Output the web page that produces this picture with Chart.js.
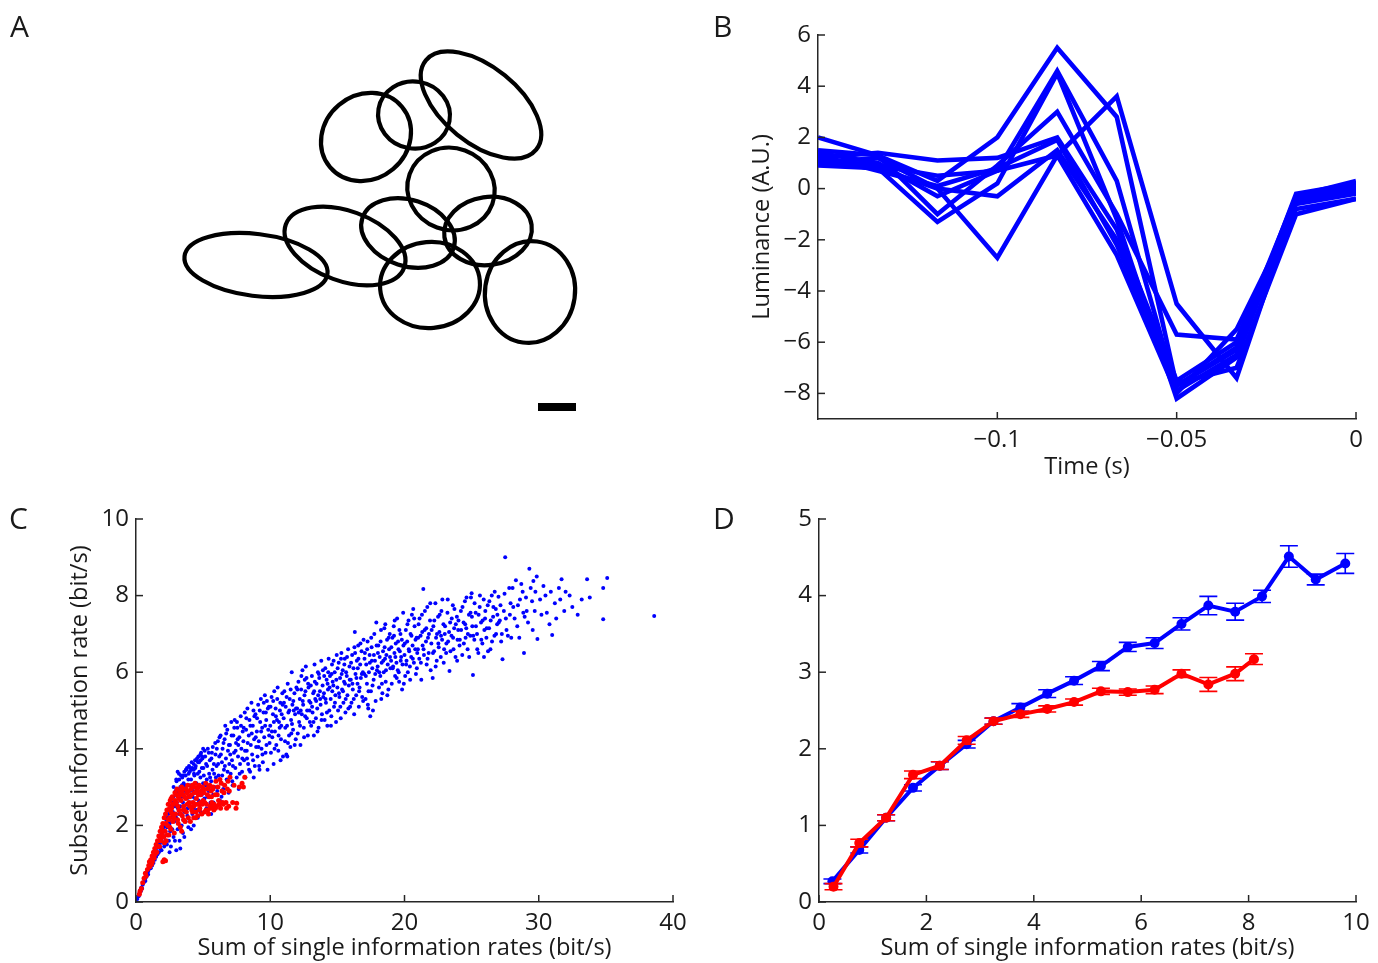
<!DOCTYPE html>
<html><head><meta charset="utf-8">
<script src="https://cdn.jsdelivr.net/npm/chart.js@4.4.1/dist/chart.umd.min.js"></script>
<style>
html,body{margin:0;padding:0;background:#fff;}
body{width:1378px;height:963px;position:relative;overflow:hidden;font-family:'Open Sans',sans-serif;}
.p{position:absolute;}
.lbl{position:absolute;font-family:'Open Sans',sans-serif;font-size:30px;line-height:30px;color:#1a1a1a;}
</style></head>
<body>
<div class="p" style="left:0;top:0"><canvas id="cA" width="700" height="490"></canvas></div>
<div class="p" style="left:700px;top:12px"><canvas id="cB" width="678" height="478"></canvas></div>
<div class="p" style="left:0;top:490px"><canvas id="cC" width="700" height="473"></canvas></div>
<div class="p" style="left:700px;top:490px"><canvas id="cD" width="678" height="473"></canvas></div>
<div class="lbl" style="left:10px;top:11px">A</div>
<div class="lbl" style="left:713px;top:11px">B</div>
<div class="lbl" style="left:9px;top:503px">C</div>
<div class="lbl" style="left:713px;top:503px">D</div>
<script>
// ---------- Panel A: receptive-field ellipses ----------
const rfX = [481, 414, 366, 451, 256, 345, 408, 488, 430, 530];
const rfY = [105, 115, 137, 189, 265, 246, 233, 231, 285, 292];
const rfA = [71, 36, 47, 44, 72, 63, 48, 44, 50, 45];
const rfB = [38, 33.5, 42, 41, 31, 35, 33, 34, 43, 51];
const rfAngle = [39, 10, -40, 20, 7, 20, 18, -8, -5, 8];
const scaleBarX = [538, 576];
const scaleBarY = 407;

// ---------- Panel B: luminance traces ----------
const timeS = [-0.15, -0.1333, -0.1167, -0.1, -0.0833, -0.0667, -0.05, -0.0333, -0.0167, 0];
const lum1 = [2.0, 1.3, 0.3, 2.0, 5.5, 2.8, -7.7, -6.2, -0.3, 0.1];
const lum2 = [1.1, 0.9, 0.5, 0.7, 1.3, 3.6, -4.5, -7.4, -0.5, -0.1];
const lum3 = [1.4, 1.0, -0.3, 0.7, 4.6, 0.3, -7.9, -6.5, -0.4, 0.0];
const lum4 = [1.0, 0.8, -1.3, 0.2, 4.5, -1.2, -8.2, -6.6, -0.5, -0.1];
const lum5 = [1.2, 1.4, 1.1, 1.2, 2.0, -1.6, -7.5, -6.0, -0.3, 0.3];
const lum6 = [0.9, 0.8, 0.0, -2.7, 1.3, -2.6, -8.0, -5.5, -0.8, -0.4];
const lum7 = [1.5, 1.3, -1.0, 0.9, 3.0, -1.0, -5.7, -5.9, -0.6, -0.2];
const lum8 = [1.0, 1.2, 0.0, -0.3, 1.5, -2.0, -7.6, -7.0, -1.0, -0.4];
const lum9 = [1.3, 0.7, 0.1, 0.8, 1.9, -2.2, -7.7, -6.3, -0.2, 0.2];
const bTicksX = [-0.1, -0.05, 0];
const bTicksY = [-8, -6, -4, -2, 0, 2, 4, 6];

// ---------- Panel C: scatter ----------
const bluePts = [
[0.1,0.08],[0.2,0.15],[0.25,0.22],[0.3,0.3],[0.35,0.28],[0.4,0.38],[0.45,0.35],[0.5,0.45],[0.55,0.5],[0.6,0.52],[0.65,0.6],[0.7,0.62],[0.75,0.7],[0.8,0.68],[0.85,0.78],[0.9,0.8],[0.95,0.85],[1.0,0.9],[0.7,0.55],[0.9,0.72],
[1.05,0.95],[1.1,1.0],[1.1,0.88],[1.15,1.05],[1.2,1.1],[1.2,0.95],[1.25,1.15],[1.3,1.2],[1.3,1.02],[1.35,1.25],[1.4,1.3],[1.4,1.1],[1.45,1.35],[1.5,1.4],[1.5,1.18],[1.55,1.45],[1.6,1.5],[1.6,1.25],[1.65,1.55],[1.7,1.6],[1.7,1.3],[1.75,1.5],[1.8,1.7],[1.8,1.4],[1.85,1.75],[1.9,1.62],[1.9,1.35],[1.95,1.85],[2.0,1.55],[2.0,1.75],
[2.05,1.95],[2.1,1.45],[2.1,1.7],[2.15,2.0],[2.2,1.6],[2.2,1.85],[2.25,2.15],[2.3,1.5],[2.3,1.95],[2.35,2.2],[2.4,1.75],[2.4,2.3],[2.45,1.6],[2.5,2.05],[2.5,2.4],[2.55,1.85],[2.6,2.5],[2.6,1.45],[2.65,2.2],[2.7,2.6],[2.7,1.9],[2.75,2.35],[2.8,1.7],[2.8,2.75],[2.85,2.1],[2.9,2.5],[2.9,1.6],[2.95,2.9],[3.0,2.2],[3.0,3.2],[2.6,2.1],[2.4,2.0],[2.2,2.3],[2.8,3.0],[2.5,1.3],
[3.05,2.6],[3.1,3.4],[3.1,1.9],[3.15,2.85],[3.2,2.3],[3.2,3.35],[3.25,1.6],[3.3,3.0],[3.3,2.5],[3.35,3.3],[3.4,2.0],[3.4,2.8],[3.45,3.25],[3.5,2.6],[3.5,1.8],[3.55,3.1],[3.6,2.35],[3.6,3.4],[3.65,2.9],[3.7,3.3],[3.7,2.1],[3.75,3.45],[3.8,2.7],[3.8,3.5],[3.85,2.45],[3.9,3.2],[3.9,1.95],[3.95,3.55],[4.0,2.9],[4.0,3.4],[3.3,1.4],[3.6,1.7],[3.0,1.35],[3.5,3.3],[3.2,2.7],
[4.05,3.5],[4.1,2.6],[4.1,3.2],[4.15,3.65],[4.2,2.3],[4.2,3.5],[4.25,2.9],[4.3,3.6],[4.3,2.0],[4.35,3.3],[4.4,3.7],[4.4,2.7],[4.45,3.55],[4.5,3.1],[4.5,2.4],[4.55,3.75],[4.6,3.35],[4.6,2.85],[4.65,3.8],[4.7,3.0],[4.7,3.65],[4.75,2.55],[4.8,3.85],[4.8,3.25],[4.85,3.9],[4.9,2.8],[4.9,3.5],[4.95,3.75],[5.0,3.1],[5.0,4.0],[4.6,2.2],[4.3,3.45],[4.8,2.35],[4.1,1.9],[4.5,3.7],
[5.05,3.3],[5.1,2.7],[5.15,3.8],[5.2,3.05],[5.25,2.45],[5.3,3.55],[5.35,4.0],[5.4,2.9],[5.45,3.35],[5.5,3.7],[5.55,2.6],[5.6,3.15],[5.65,3.9],[5.7,3.45],[5.75,2.8],[5.8,3.6],[5.9,4.15],[5.95,3.25],[5.6,2.3],[5.85,3.0],
[6.0,3.55],[6.05,2.9],[6.1,4.2],[6.15,3.3],[6.2,3.8],[6.25,2.65],[6.3,4.35],[6.35,3.1],[6.4,3.65],[6.45,4.0],[6.5,2.95],[6.55,3.45],[6.6,4.25],[6.7,3.75],[6.75,3.2],[6.8,4.5],[6.85,3.95],[6.9,2.85],[6.95,3.6],[6.65,4.6],
[7.0,4.1],[7.05,3.35],[7.1,4.7],[7.15,3.7],[7.2,3.05],[7.25,4.35],[7.3,3.9],[7.35,4.75],[7.4,3.5],[7.45,4.15],[7.5,3.25],[7.55,4.55],[7.6,3.8],[7.7,4.3],[7.75,3.6],[7.8,4.85],[7.85,4.0],[7.9,3.4],[7.95,4.45],[7.65,2.95],
[8.0,4.2],[8.05,3.7],[8.1,4.95],[8.15,3.25],[8.2,4.5],[8.25,3.95],[8.3,5.05],[8.35,3.6],[8.4,4.35],[8.45,4.75],[8.5,3.4],[8.55,4.1],[8.6,5.2],[8.65,3.85],[8.7,4.6],[8.8,4.25],[8.85,3.55],[8.9,4.9],[8.95,4.05],[8.75,5.0],
[9.0,4.45],[9.05,3.8],[9.1,5.15],[9.15,4.2],[9.2,3.45],[9.25,4.7],[9.3,5.3],[9.35,4.0],[9.4,4.55],[9.45,3.65],[9.5,4.95],[9.55,4.3],[9.6,5.4],[9.65,3.9],[9.7,4.75],[9.8,3.45],[9.85,4.5],[9.9,5.1],[9.95,4.15],[9.75,5.25],
[10.0,4.6],[10.05,3.9],[10.1,5.35],[10.15,4.3],[10.2,4.9],[10.25,3.6],[10.3,5.5],[10.35,4.45],[10.4,5.05],[10.45,4.1],[10.5,4.75],[10.55,5.6],[10.6,3.95],[10.7,4.55],[10.75,5.2],[10.8,4.25],[10.85,4.9],[10.9,5.45],[10.95,3.8],[10.65,4.7],
[11.0,4.8],[11.05,5.5],[11.1,4.2],[11.15,5.1],[11.2,3.85],[11.25,4.6],[11.3,5.7],[11.35,4.95],[11.4,4.35],[11.45,5.3],[11.5,4.05],[11.55,4.75],[11.6,6.0],[11.65,5.15],[11.7,4.5],[11.8,5.45],[11.85,4.9],[11.9,4.25],[11.95,5.6],[11.75,5.0],
[12.0,5.05],[12.05,4.4],[12.1,5.75],[12.15,4.7],[12.2,5.3],[12.25,4.1],[12.3,5.55],[12.35,4.9],[12.4,6.05],[12.45,5.15],[12.5,4.55],[12.55,5.4],[12.6,4.85],[12.7,5.85],[12.75,5.0],[12.8,4.35],[12.85,5.6],[12.9,5.25],[12.95,4.7],[12.65,6.15],
[13.0,5.2],[13.05,4.6],[13.1,5.9],[13.15,4.95],[13.2,5.45],[13.25,4.35],[13.3,6.2],[13.35,5.3],[13.4,4.8],[13.45,5.7],[13.5,5.05],[13.55,6.0],[13.6,4.55],[13.7,5.5],[13.75,5.15],[13.8,6.3],[13.85,4.9],[13.9,5.65],[13.95,5.35],[13.65,5.85],
[14.0,5.45],[14.05,4.75],[14.1,6.1],[14.15,5.2],[14.2,5.8],[14.25,4.6],[14.3,5.55],[14.35,6.35],[14.4,5.0],[14.45,5.9],[14.5,5.3],[14.55,4.85],[14.6,6.2],[14.7,5.65],[14.75,5.1],[14.8,6.0],[14.85,5.4],[14.9,4.7],[14.95,6.45],[14.65,5.75],
[15.0,5.6],[15.05,5.0],[15.1,6.25],[15.15,5.35],[15.2,5.85],[15.25,4.8],[15.3,6.5],[15.35,5.55],[15.4,6.05],[15.45,5.2],[15.5,5.75],[15.55,6.35],[15.6,4.95],[15.7,5.9],[15.75,5.4],[15.8,6.6],[15.85,5.65],[15.9,6.15],[15.95,5.1],[15.65,6.0],
[16.0,5.8],[16.05,5.2],[16.1,6.45],[16.15,5.55],[16.2,6.1],[16.25,4.9],[16.3,7.05],[16.35,5.95],[16.4,5.4],[16.45,6.3],[16.5,5.7],[16.55,6.7],[16.6,5.1],[16.7,6.2],[16.75,5.85],[16.8,6.55],[16.85,5.35],[16.9,6.0],[16.95,6.85],[16.65,5.6],
[17.0,5.95],[17.05,6.5],[17.1,5.3],[17.15,6.2],[17.2,5.7],[17.25,6.8],[17.3,5.05],[17.35,6.0],[17.4,6.45],[17.45,4.85],[17.5,5.5],[17.55,6.65],[17.6,6.1],[17.7,5.8],[17.75,7.0],[17.8,6.3],[17.85,5.25],[17.9,7.3],[17.95,6.05],[17.65,5.0],
[18.0,6.15],[18.05,6.7],[18.1,5.6],[18.15,6.4],[18.2,5.9],[18.25,7.1],[18.3,6.25],[18.35,5.45],[18.4,6.55],[18.45,6.0],[18.5,7.15],[18.55,6.35],[18.6,5.75],[18.7,6.85],[18.75,6.2],[18.8,5.55],[18.85,6.6],[18.9,7.0],[18.95,6.1],[18.65,6.45],
[19.0,6.3],[19.05,5.7],[19.1,6.9],[19.15,6.15],[19.2,7.2],[19.25,6.5],[19.3,5.9],[19.35,6.75],[19.4,6.25],[19.45,7.4],[19.5,6.05],[19.55,6.6],[19.6,5.75],[19.7,7.0],[19.75,6.4],[19.8,6.85],[19.85,6.2],[19.9,7.55],[19.95,5.7],[19.65,6.55],
[20.0,6.45],[20.05,5.9],[20.1,7.1],[20.15,6.3],[20.2,6.8],[20.25,6.0],[20.3,7.35],[20.35,6.55],[20.4,6.15],[20.45,7.0],[20.5,6.4],[20.55,7.5],[20.6,6.7],[20.7,6.25],[20.75,7.2],[20.8,6.6],[20.85,5.95],[20.9,6.9],[20.95,6.5],[20.65,7.65],
[21.0,6.6],[21.05,7.25],[21.1,6.35],[21.2,6.95],[21.25,5.8],[21.3,7.5],[21.35,6.7],[21.4,8.17],[21.45,6.45],[21.5,7.1],[21.6,6.8],[21.65,6.2],[21.7,7.7],[21.75,6.9],[21.8,6.5],[21.9,7.35],[21.95,6.05],
[22.0,6.75],[22.1,5.85],[22.15,7.2],[22.2,6.55],[22.3,7.8],[22.35,6.9],[22.4,6.3],[22.5,7.45],[22.55,6.65],[22.6,7.05],[22.7,6.4],[22.75,7.6],[22.8,6.85],[22.9,7.25],[22.95,6.6],
[23.0,7.0],[23.1,6.5],[23.2,7.55],[23.25,6.8],[23.35,6.03],[23.4,7.3],[23.5,6.95],[23.6,7.75],[23.65,6.6],[23.7,7.15],[23.8,6.4],[23.9,7.45],[23.95,6.85],
[24.0,7.1],[24.1,6.7],[24.2,7.6],[24.3,6.45],[24.4,7.3],[24.5,7.85],[24.55,6.9],[24.6,7.15],[24.7,6.6],[24.8,7.5],[24.9,6.95],[24.95,7.95],
[25.0,8.06],[25.05,7.2],[25.1,5.93],[25.2,6.85],[25.3,7.55],[25.4,7.0],[25.5,6.5],[25.6,7.7],[25.7,7.3],[25.8,6.75],[25.9,7.9],[25.95,7.1],
[26.0,7.4],[26.1,6.9],[26.2,7.75],[26.3,7.15],[26.4,6.6],[26.5,8.0],[26.6,7.45],[26.7,6.95],[26.8,7.65],[26.9,7.25],
[27.0,7.97],[27.1,7.35],[27.2,6.8],[27.3,6.34],[27.4,7.6],[27.5,9.0],[27.6,7.1],[27.8,8.2],[27.85,7.5],[27.95,6.9],
[28.1,7.7],[28.3,8.4],[28.4,7.2],[28.6,7.9],[28.9,6.5],[28.8,8.1],[28.95,7.45],
[29.1,7.6],[29.3,8.7],[29.6,8.38],[29.9,6.87],[29.5,7.85],[29.75,8.1],
[30.2,7.5],[30.5,8.0],[30.8,7.25],[31.0,6.97],[31.2,7.8],[31.5,8.2],[31.7,8.43],[31.9,7.6],
[32.3,8.0],[32.9,7.5],[33.2,7.9],[33.6,8.43],[33.8,7.95],[34.8,8.2],[35.1,8.46],[34.8,7.38],
[38.6,7.47],
[3.02,3.15],[3.12,2.45],[3.22,3.2],[3.42,3.05],[3.52,2.15],[3.62,3.05],[3.72,3.45],[3.82,2.25],[3.92,3.35],[3.47,2.75],
[4.02,3.05],[4.12,3.45],[4.22,2.75],[4.32,3.35],[4.42,3.5],[4.52,2.95],[4.62,3.65],[4.72,3.4],[4.82,3.7],[4.92,3.8],[4.27,2.45],[4.67,2.65],
[5.02,3.5],[5.12,3.95],[5.22,3.6],[5.32,2.75],[5.42,3.9],[5.52,3.25],[5.62,3.75],[5.72,4.05],[5.82,3.35],[5.92,3.85],[5.27,3.2],[5.77,2.6],
[6.02,4.0],[6.12,3.6],[6.22,4.3],[6.32,3.85],[6.42,3.3],[6.52,4.15],[6.62,3.55],[6.72,4.4],[6.82,3.4],[6.92,4.1],[6.37,2.75],[6.87,3.15],
[7.02,3.85],[7.12,4.35],[7.22,3.55],[7.32,4.55],[7.42,3.95],[7.52,4.7],[7.62,4.1],[7.72,3.35],[7.82,4.6],[7.92,3.75],[7.17,3.15],[7.57,4.25],
[8.02,4.55],[8.12,3.95],[8.22,4.8],[8.32,4.15],[8.42,3.45],[8.52,4.6],[8.62,4.4],[8.72,3.7],[8.82,4.85],[8.92,4.3],[8.27,3.75],[8.77,3.25],
[9.02,4.8],[9.12,4.05],[9.22,5.0],[9.32,4.45],[9.42,3.85],[9.52,5.2],[9.62,4.6],[9.72,4.1],[9.82,5.05],[9.92,4.35],[9.17,3.55],[9.67,4.95],
[10.02,5.1],[10.12,4.45],[10.22,5.25],[10.32,4.0],[10.42,4.85],[10.52,5.3],[10.62,4.35],[10.72,5.0],[10.82,4.6],[10.92,5.15],[10.27,4.7],[10.77,3.7],
[11.02,5.2],[11.12,4.55],[11.22,5.35],[11.32,4.15],[11.42,5.0],[11.52,5.55],[11.62,4.65],[11.72,5.25],[11.82,4.1],[11.92,5.05],[11.27,3.8],[11.57,4.4],
[12.02,5.55],[12.12,4.95],[12.22,4.6],[12.32,5.9],[12.42,5.25],[12.52,4.3],[12.62,5.5],[12.72,4.8],[12.82,5.7],[12.92,5.0],[12.27,5.0],[12.57,5.8],
[13.02,5.65],[13.12,5.1],[13.22,4.7],[13.32,5.75],[13.42,5.25],[13.52,4.45],[13.62,5.95],[13.72,5.3],[13.82,4.75],[13.92,6.05],[13.27,5.5],[13.57,5.4],
[14.02,5.9],[14.12,5.3],[14.22,4.95],[14.32,6.0],[14.42,5.6],[14.52,4.6],[14.62,5.5],[14.72,6.3],[14.82,5.2],[14.92,5.8],[14.27,5.7],[14.57,5.95],
[15.02,6.1],[15.12,5.45],[15.22,5.1],[15.32,5.95],[15.42,5.5],[15.52,6.2],[15.62,5.3],[15.72,6.4],[15.82,5.05],[15.92,5.8],[15.27,6.35],[15.57,5.7],
[16.02,6.25],[16.12,5.7],[16.22,5.3],[16.32,6.5],[16.42,5.85],[16.52,6.1],[16.62,5.5],[16.72,6.75],[16.82,5.95],[16.92,5.25],[16.27,6.65],[16.57,6.35],
[17.02,6.35],[17.12,5.9],[17.22,6.6],[17.32,5.5],[17.42,6.25],[17.52,6.9],[17.62,5.65],[17.72,6.45],[17.82,5.95],[17.92,6.7],[17.27,5.15],[17.57,6.3],
[18.02,6.5],[18.12,6.0],[18.22,6.8],[18.32,5.7],[18.42,6.3],[18.52,6.65],[18.62,6.05],[18.72,5.4],[18.82,6.9],[18.92,6.4],[18.27,5.3],[18.57,7.25],
[19.02,6.65],[19.12,6.1],[19.22,6.95],[19.32,6.4],[19.42,5.85],[19.52,6.8],[19.62,7.1],[19.72,6.3],[19.82,5.55],[19.92,6.7],[19.27,7.35],[19.57,6.0],
[20.02,6.75],[20.12,6.2],[20.22,7.25],[20.32,6.6],[20.42,5.8],[20.52,6.95],[20.62,6.35],[20.72,7.4],[20.82,6.85],[20.92,6.1],
[21.02,6.9],[21.12,7.4],[21.22,6.25],[21.32,7.05],[21.42,6.6],[21.52,7.6],[21.62,7.15],[21.72,6.35],[21.82,7.0],[21.92,7.8],
[22.02,7.1],[22.12,6.5],[22.22,7.35],[22.32,6.15],[22.42,7.0],[22.52,6.75],[22.62,7.5],[22.72,6.95],[22.82,7.9],[22.92,6.25],
[23.02,7.2],[23.12,6.75],[23.22,7.9],[23.32,7.05],[23.42,6.55],[23.52,7.4],[23.62,6.9],[23.72,7.65],[23.82,7.25],[23.92,6.3],
[24.02,7.35],[24.12,6.85],[24.22,7.1],[24.32,7.7],[24.42,6.75],[24.52,7.25],[24.62,7.95],[24.72,7.0],[24.82,6.4],[24.92,7.55],
[25.02,7.45],[25.12,6.95],[25.22,7.8],[25.32,7.2],[25.42,6.6],[25.52,7.5],[25.62,8.0],[25.72,6.85],[25.82,7.35],[25.92,6.4],
[26.02,7.6],[26.12,7.15],[26.22,6.55],[26.32,7.85],[26.42,7.35],[26.52,6.8],[26.62,7.7],[26.72,8.1],[26.82,7.0],[26.92,7.5],
[27.02,7.3],[27.15,7.75],[27.25,7.0],[27.45,8.05],[27.55,7.4],[27.7,6.95],[27.9,7.8],
[28.05,8.2],[28.2,7.4],[28.45,7.75],[28.55,6.9],[28.7,8.3],[28.85,7.55],
[29.05,7.95],[29.2,7.3],[29.4,8.2],[29.55,7.1],[29.7,7.6],[29.85,8.5],
[30.1,7.9],[30.35,8.25],[30.6,7.55],[30.9,8.1],[31.3,7.4],[31.6,7.9],[32.0,8.1],[32.5,7.7]
];
const redPts = [
[0.25,0.2],[0.3,0.28],[0.4,0.35],[0.5,0.5],[0.6,0.62],[0.7,0.75],[0.75,0.68],[0.85,0.85],[0.95,0.95],[1.0,1.05],[1.1,1.1],[1.15,0.98],[1.2,1.2],[1.3,1.3],[1.35,1.15],[1.4,1.4],[1.5,1.5],[1.55,1.3],[1.6,1.6],[1.7,1.72],[1.75,1.45],[1.8,1.85],[1.85,1.6],[1.9,1.95],[1.95,1.75],[2.0,1.05],[2.1,1.1],[2.2,1.08],
[2.0,2.05],[2.05,1.7],[2.1,2.2],[2.15,1.85],[2.2,2.3],[2.25,1.6],[2.3,2.4],[2.35,2.0],[2.4,2.55],[2.45,1.75],[2.5,2.2],[2.55,2.65],[2.6,1.9],[2.65,2.45],[2.7,2.75],[2.75,2.1],[2.8,2.55],[2.85,1.8],[2.9,2.85],[2.95,2.3],[2.5,2.45],[2.7,2.3],
[3.0,2.6],[3.05,2.95],[3.1,2.15],[3.15,2.75],[3.2,2.4],[3.25,2.9],[3.3,1.95],[3.35,2.65],[3.4,3.0],[3.45,2.25],[3.5,2.8],[3.55,2.5],[3.6,2.95],[3.65,2.1],[3.7,2.7],[3.75,2.35],[3.8,2.85],[3.85,3.05],[3.9,2.2],[3.95,2.6],[3.3,2.8],[3.6,2.4],[3.9,2.9],[3.4,1.85],
[4.0,2.75],[4.05,2.1],[4.1,2.95],[4.15,2.4],[4.2,3.05],[4.25,2.6],[4.3,2.2],[4.35,2.85],[4.4,3.1],[4.45,2.35],[4.5,2.7],[4.55,2.95],[4.6,2.25],[4.65,2.8],[4.7,3.05],[4.75,2.45],[4.8,2.6],[4.85,2.9],[4.9,2.3],[4.95,3.0],[4.3,2.5],[4.6,2.55],
[5.0,2.65],[5.05,2.85],[5.1,2.35],[5.2,3.1],[5.25,2.55],[5.3,2.95],[5.35,2.4],[5.45,2.75],[5.5,3.05],[5.55,2.45],[5.6,2.9],[5.7,2.5],[5.75,3.0],[5.8,2.4],[5.9,2.8],[5.95,3.15],[5.4,2.3],[5.65,2.6],
[6.0,2.5],[6.1,3.0],[6.15,2.65],[6.25,3.2],[6.3,2.45],[6.4,2.9],[6.5,2.55],[6.6,3.05],[6.7,2.6],[6.8,2.95],[6.9,2.5],[7.0,3.26],
[7.2,2.6],[7.3,3.05],[7.5,2.58],[7.45,2.45],[7.7,3.0],[7.9,3.1],[8.0,3.0],[8.1,3.26],
[1.02,0.92],[1.22,1.05],[1.42,1.25],[1.62,1.45],[1.82,1.65],[2.02,1.85],[2.12,1.55],[2.32,1.75],[2.42,2.15],[2.52,1.95],[2.62,2.35],[2.72,2.55],[2.82,2.2],[2.92,2.65],[2.62,2.7],[2.22,2.05],
[3.02,2.8],[3.12,2.5],[3.22,2.7],[3.32,2.3],[3.42,2.9],[3.52,2.4],[3.62,2.75],[3.72,2.95],[3.82,2.55],[3.92,2.75],[3.15,2.05],[3.55,2.15],
[4.02,2.5],[4.12,2.8],[4.22,2.35],[4.32,3.0],[4.42,2.55],[4.52,2.9],[4.62,3.0],[4.72,2.4],[4.82,2.8],[4.92,2.55],[4.45,2.2],
[5.02,2.95],[5.12,2.6],[5.22,2.4],[5.32,2.8],[5.42,3.0],[5.52,2.5],[5.62,2.75],[5.72,2.95],[5.82,2.55],[5.92,2.45],
[6.05,2.8],[6.2,2.55],[6.35,3.1],[6.45,2.6],[6.55,2.85],[6.75,2.45],[6.95,2.9],[6.85,3.15]
];
const cTicksX = [0, 10, 20, 30, 40];
const cTicksY = [0, 2, 4, 6, 8, 10];

// ---------- Panel D: binned means with error bars ----------
const dXBlue = [0.25,0.75,1.25,1.75,2.25,2.75,3.25,3.75,4.25,4.75,5.25,5.75,6.25,6.75,7.25,7.75,8.25,8.75,9.25,9.8];
const dYBlue = [0.27,0.68,1.10,1.49,1.78,2.06,2.36,2.54,2.72,2.89,3.08,3.33,3.38,3.63,3.87,3.79,3.99,4.51,4.21,4.42];
const dEBlue = [0.03,0.04,0.04,0.04,0.05,0.05,0.04,0.05,0.05,0.05,0.06,0.06,0.07,0.08,0.12,0.11,0.08,0.14,0.07,0.13];
const dXRed = [0.27,0.75,1.25,1.75,2.25,2.75,3.25,3.75,4.25,4.75,5.25,5.75,6.25,6.75,7.25,7.75,8.1];
const dYRed = [0.20,0.77,1.10,1.66,1.78,2.11,2.36,2.45,2.52,2.61,2.75,2.74,2.77,2.98,2.84,2.98,3.17];
const dERed = [0.04,0.05,0.04,0.05,0.05,0.05,0.04,0.04,0.04,0.04,0.04,0.04,0.05,0.05,0.09,0.09,0.07];
const dTicksX = [0, 2, 4, 6, 8, 10];
const dTicksY = [0, 1, 2, 3, 4, 5];

// ---------- styling ----------
const BLUE = '#0000ff', RED = '#ff0000', AXIS = '#262626', TXT = '#1a1a1a';
const FONT = 'Open Sans', FSIZE = 24, TSIZE = 23.6;
Chart.defaults.font.family = FONT;
Chart.defaults.font.size = FSIZE;
Chart.defaults.color = TXT;
const TICK_LEN = 7;

const fmt = v => (v < 0 ? '\u2212' + String(Math.abs(v)) : String(v));

const inwardTicks = {
  id: 'inwardTicks',
  afterDraw(chart) {
    const {ctx, chartArea: a} = chart;
    ctx.save();
    ctx.strokeStyle = AXIS; ctx.lineWidth = 1.5;
    Object.values(chart.scales).forEach(s => {
      if (!s.options.display) return;
      s.ticks.forEach(t => {
        const p = s.getPixelForValue(t.value);
        ctx.beginPath();
        if (s.isHorizontal()) { ctx.moveTo(p, a.bottom); ctx.lineTo(p, a.bottom - TICK_LEN); }
        else { ctx.moveTo(a.left, p); ctx.lineTo(a.left + TICK_LEN, p); }
        ctx.stroke();
      });
    });
    ctx.restore();
  }
};

function axis(min, max, ticks, opts) {
  return Object.assign({
    type: 'linear', min, max,
    afterBuildTicks: s => { s.ticks = ticks.map(v => ({value: v})); },
    grid: {display: true, drawOnChartArea: false, drawTicks: false},
    border: {display: true, color: AXIS, width: 1.5},
    ticks: {callback: v => fmt(v), padding: 7, color: TXT, font: {size: FSIZE}, maxRotation: 0, autoSkip: false}
  }, opts);
}

// ---------- Chart A ----------
const ellipsePlugin = {
  id: 'ellipses',
  afterDatasetsDraw(chart) {
    const {ctx} = chart, xs = chart.scales.x, ys = chart.scales.y;
    ctx.save();
    ctx.strokeStyle = '#000'; ctx.lineWidth = 4.2;
    rfX.forEach((cxv, i) => {
      const cx = xs.getPixelForValue(cxv), cy = ys.getPixelForValue(rfY[i]);
      const rx = Math.abs(xs.getPixelForValue(cxv + rfA[i]) - cx);
      const ry = Math.abs(ys.getPixelForValue(rfY[i] + rfB[i]) - cy);
      ctx.beginPath();
      ctx.ellipse(cx, cy, rx, ry, rfAngle[i] * Math.PI / 180, 0, 2 * Math.PI);
      ctx.stroke();
    });
    ctx.lineWidth = 8; ctx.lineCap = 'butt';
    ctx.beginPath();
    ctx.moveTo(xs.getPixelForValue(scaleBarX[0]), ys.getPixelForValue(scaleBarY));
    ctx.lineTo(xs.getPixelForValue(scaleBarX[1]), ys.getPixelForValue(scaleBarY));
    ctx.stroke();
    ctx.restore();
  }
};
new Chart(document.getElementById('cA'), {
  type: 'scatter',
  data: {datasets: [{data: rfX.map((x, i) => ({x, y: rfY[i]})), pointRadius: 0}]},
  options: {
    responsive: false, animation: false, layout: {padding: 0},
    plugins: {legend: {display: false}, tooltip: {enabled: false}},
    scales: {x: {type: 'linear', min: 0, max: 700, display: false}, y: {type: 'linear', min: 0, max: 490, reverse: true, display: false}}
  },
  plugins: [ellipsePlugin]
});

// ---------- Chart B ----------
const lumSeries = [lum1, lum2, lum3, lum4, lum5, lum6, lum7, lum8, lum9];
new Chart(document.getElementById('cB'), {
  type: 'scatter',
  data: {datasets: lumSeries.map(s => ({
    data: timeS.map((t, i) => ({x: t, y: s[i]})),
    showLine: true, borderColor: BLUE, borderWidth: 4.6, pointRadius: 0,
    borderJoinStyle: 'miter', tension: 0
  }))},
  options: {
    responsive: false, animation: false,
    layout: {padding: {top: 23, right: 22, left: 0, bottom: 0}},
    plugins: {legend: {display: false}, tooltip: {enabled: false}},
    scales: {
      x: axis(-0.15, 0, bTicksX, {afterFit: s => { s.height = 71; },
        title: {display: true, text: 'Time (s)', color: TXT, font: {size: TSIZE}, padding: {top: 0, bottom: 8.6}}}),
      y: axis(-9, 6, bTicksY, {afterFit: s => { s.width = 118; },
        title: {display: true, text: 'Luminance (A.U.)', color: TXT, font: {size: TSIZE}, padding: {top: 47.8, bottom: 0}}})
    }
  },
  plugins: [inwardTicks]
});

// ---------- Chart C ----------
new Chart(document.getElementById('cC'), {
  type: 'scatter',
  data: {datasets: [
    {data: bluePts.map(p => ({x: p[0], y: p[1]})), pointRadius: 2, pointBackgroundColor: BLUE, pointBorderWidth: 0, order: 2},
    {data: redPts.map(p => ({x: p[0], y: p[1]})), pointRadius: 2.5, pointBackgroundColor: RED, pointBorderWidth: 0, order: 1}
  ]},
  options: {
    responsive: false, animation: false,
    layout: {padding: {top: 29, right: 27, left: 0, bottom: 0}},
    plugins: {legend: {display: false}, tooltip: {enabled: false}},
    scales: {
      x: axis(0, 40, cTicksX, {afterFit: s => { s.height = 61; },
        title: {display: true, text: 'Sum of single information rates (bit/s)', color: TXT, font: {size: TSIZE}, padding: {top: 0, bottom: 0.8}}}),
      y: axis(0, 10, cTicksY, {afterFit: s => { s.width = 136; },
        title: {display: true, text: 'Subset information rate (bit/s)', color: TXT, font: {size: TSIZE}, padding: {top: 66.2, bottom: 0}}})
    }
  },
  plugins: [inwardTicks]
});

// ---------- Chart D ----------
const CAP = 9;
const errorBars = {
  id: 'errorBars',
  afterDatasetDraw(chart, args) {
    const ds = chart.data.datasets[args.index];
    if (!ds.errors) return;
    const {ctx} = chart, xs = chart.scales.x, ys = chart.scales.y;
    ctx.save();
    ctx.strokeStyle = ds.borderColor; ctx.lineWidth = 1.6;
    ds.data.forEach((pt, i) => {
      const e = ds.errors[i];
      const px = xs.getPixelForValue(pt.x);
      const top = ys.getPixelForValue(pt.y + e), bot = ys.getPixelForValue(pt.y - e);
      ctx.beginPath();
      ctx.moveTo(px, top); ctx.lineTo(px, bot);
      ctx.moveTo(px - CAP, top); ctx.lineTo(px + CAP, top);
      ctx.moveTo(px - CAP, bot); ctx.lineTo(px + CAP, bot);
      ctx.stroke();
    });
    ctx.restore();
  }
};
new Chart(document.getElementById('cD'), {
  type: 'scatter',
  data: {datasets: [
    {data: dXBlue.map((x, i) => ({x, y: dYBlue[i]})), errors: dEBlue, showLine: true,
     borderColor: BLUE, borderWidth: 4, pointRadius: 5, pointBackgroundColor: BLUE, pointBorderWidth: 0, order: 2},
    {data: dXRed.map((x, i) => ({x, y: dYRed[i]})), errors: dERed, showLine: true,
     borderColor: RED, borderWidth: 4, pointRadius: 5, pointBackgroundColor: RED, pointBorderWidth: 0, order: 1}
  ]},
  options: {
    responsive: false, animation: false,
    layout: {padding: {top: 29, right: 22, left: 0, bottom: 0}},
    plugins: {legend: {display: false}, tooltip: {enabled: false}},
    scales: {
      x: axis(0, 10, dTicksX, {afterFit: s => { s.height = 61; },
        title: {display: true, text: 'Sum of single information rates (bit/s)', color: TXT, font: {size: TSIZE}, padding: {top: 0, bottom: 0.8}}}),
      y: axis(0, 5, dTicksY, {afterFit: s => { s.width = 119; }})
    }
  },
  plugins: [inwardTicks, errorBars]
});
</script>
</body></html>
